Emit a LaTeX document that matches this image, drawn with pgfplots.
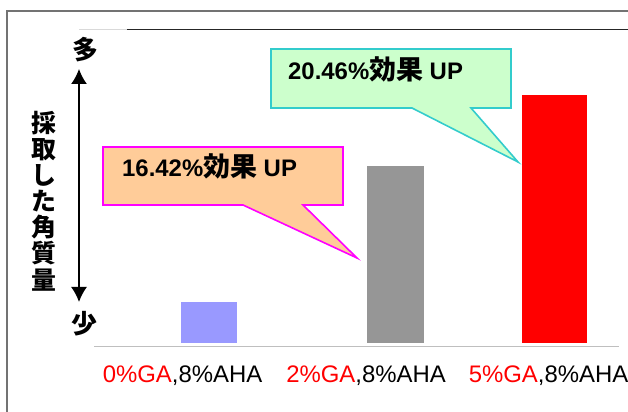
\documentclass[border=0pt]{standalone}
\usepackage{pgfplots}
\pgfplotsset{compat=1.18}
\usetikzlibrary{arrows.meta}
\usepackage{fontspec}
\setmainfont{Liberation Sans}
\newfontfamily\cjk{Noto Sans CJK JP}
\definecolor{barA}{HTML}{9999FF}
\definecolor{barB}{HTML}{969696}
\definecolor{barC}{HTML}{FF0000}
\definecolor{gfill}{HTML}{CCFFCC}
\definecolor{gline}{HTML}{33CCCC}
\definecolor{ofill}{HTML}{FFCC99}
\definecolor{oline}{HTML}{FF00FF}
\begin{document}
\begin{tikzpicture}
\begin{axis}[
  width=628bp, height=412bp, scale only axis,
  xmin=0, xmax=628, ymin=-69, ymax=343,
  hide axis, clip=false,
]
% frame
\draw[color=black!55, line width=1.5bp] (axis cs:7,-75) -- (axis cs:7,332) -- (axis cs:640,332);
\draw[color=black!15, line width=1bp] (axis cs:79,313) -- (axis cs:127,313);
\draw[color=black!85, line width=1bp] (axis cs:127,313) -- (axis cs:640,313);
% baseline
\draw[color=black!25, line width=1.5bp] (axis cs:94,-3.5) -- (axis cs:619,-3.5);
% bars
\addplot[ybar, bar shift=0pt, bar width=56, fill=barA, draw=none] coordinates {(209,41)};
\addplot[ybar, bar shift=0pt, bar width=57, fill=barB, draw=none] coordinates {(395.5,177)};
\addplot[ybar, bar shift=0pt, bar width=65, fill=barC, draw=none] coordinates {(554.5,248)};
% category labels
\node[anchor=base, font=\fontsize{24}{28}\selectfont] at (axis cs:182.5,-40) {\textcolor{red}{0\%GA},8\%AHA};
\node[anchor=base, font=\fontsize{24}{28}\selectfont] at (axis cs:366,-40) {\textcolor{red}{2\%GA},8\%AHA};
\node[anchor=base, font=\fontsize{24}{28}\selectfont] at (axis cs:548.5,-40) {\textcolor{red}{5\%GA},8\%AHA};
% arrow and y label
\draw[line width=1.6bp, {Latex[length=15bp,width=16bp]}-{Latex[length=15bp,width=16bp]}] (axis cs:79,41) -- (axis cs:79,274);
\node[font=\cjk\bfseries\fontsize{26}{28}\selectfont] at (axis cs:85,293) {多};
\node[font=\cjk\bfseries\fontsize{26}{28}\selectfont] at (axis cs:84,19) {少};
\node[font=\cjk\bfseries\fontsize{25}{26.2}\selectfont, align=center, inner sep=0pt] at (axis cs:43.5,142) {採\\取\\し\\た\\角\\質\\量};
% callouts
\draw[fill=ofill, draw=oline, line width=1.6bp, line join=miter] (axis cs:103,196) -- (axis cs:343,196) -- (axis cs:343,138) -- (axis cs:303,138) -- (axis cs:357,85) -- (axis cs:243,138) -- (axis cs:103,138) -- cycle;
\node[anchor=base west, inner sep=0pt, font=\bfseries\fontsize{24}{28}\selectfont] at (axis cs:122,166) {16.42\%{\cjk\bfseries\fontsize{27}{28}\selectfont 効果} UP};
\draw[fill=gfill, draw=gline, line width=1.6bp, line join=miter] (axis cs:271,294) -- (axis cs:511,294) -- (axis cs:511,235) -- (axis cs:471,235) -- (axis cs:518,181) -- (axis cs:412,235) -- (axis cs:271,235) -- cycle;
\node[anchor=base west, inner sep=0pt, font=\bfseries\fontsize{24}{28}\selectfont] at (axis cs:288,263) {20.46\%{\cjk\bfseries\fontsize{27}{28}\selectfont 効果} UP};
\end{axis}
\pgfresetboundingbox
\useasboundingbox (current axis.south west) rectangle (current axis.north east);
\end{tikzpicture}
\end{document}
